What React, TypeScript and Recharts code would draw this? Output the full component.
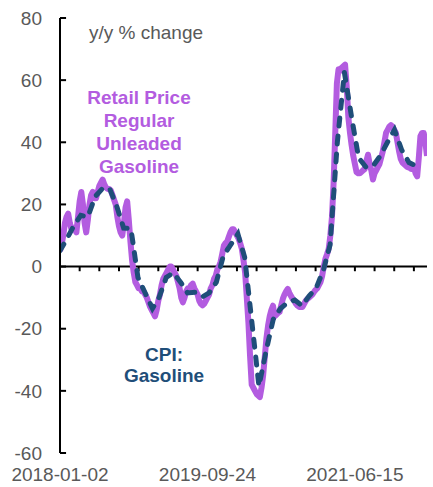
import React from 'react';
import { LineChart, Line, XAxis, YAxis, ReferenceLine } from 'recharts';

// weekly retail price y/y % change, starting 2018-01-02
const RETAIL_START = '2018-01-02';
const retailValues = [
  5, 7, 10, 14, 16, 17, 14, 12, 12.5, 12, 11, 16, 21, 24, 20, 14, 11, 15, 20, 23,
  24, 22, 22, 24, 26, 27, 28, 26.5, 25.5, 25, 25, 24.5, 23, 21.5, 20, 16, 13, 11, 10, 14,
  19, 21, 15, 8, 2, -2, -5, -6, -7, -7, -8, -8, -9, -10, -11.5, -13, -14, -15, -16, -14,
  -11, -9, -6, -4, -3, -2, -1, 0, 0, -1, -2, -3, -5, -7, -10, -11.5, -10, -8, -7, -7,
  -6, -5.5, -7, -8, -9, -11, -12, -12.5, -12, -11, -10, -9, -7, -6, -4, -3, -1, 0, 1.5, 4,
  6.7, 7.5, 8, 9.5, 11, 12, 12, 11, 10, 9, 7.5, 5.7, 2, -2, -10, -18, -28.7, -38, -39, -40,
  -41, -41.5, -42, -39, -35, -29, -23, -19, -16, -14, -12.6, -16, -15.5, -15, -14.6, -12.5, -10.4, -9, -8, -7.2,
  -8.5, -9.5, -10.4, -11, -12, -12.6, -13, -13, -13, -12, -11, -10.4, -10, -9.5, -9, -8.2, -7.5, -7, -6, -5,
  -3, 0, 2.5, 4, 5.7, 10, 16, 27, 43, 59, 63.5, 63, 64, 64.5, 65, 58, 48, 43, 39, 35.6,
  33, 30.4, 30, 30, 30.5, 31, 31.4, 34, 36, 33, 31, 28, 30, 31, 32, 33, 35, 37, 40, 43,
  44, 45, 45.5, 45, 44, 43, 40, 37, 34.6, 33.5, 33, 32.5, 32, 32, 31.5, 31.4, 32, 30, 29, 35,
  42, 43, 43, 40, 35.6,
];

// monthly CPI gasoline y/y % change, Jan 2018 onward
const CPI_START_YEAR = 2018;
const cpiValues = [
  5, 9, 13, 16.5, 16, 22.5, 25, 25.3, 19.5, 12.4, 12.2, -3.5,
  -8.5, -13.5, -10, -3.5, -2, -5, -8.5, -8.3, -9.8, -8.5, -5, 3.5,
  7, 10.5, 3, -18, -38.5, -27, -17, -13.5, -11.5, -10.8, -12.6, -9.5,
  -6.8, -1, 7, 40, 62.5, 48, 35, 32, 32.4, 35.6, 40, 44,
  37.5, 33.5, 32.5,
];

const yTicks = [-60, -40, -20, 0, 20, 40, 60, 80];
const labelWeeks = [0, 90, 180];
const minorTickWeeks = [12, 24, 36, 48, 60, 72, 84, 96, 108, 120, 132, 144, 156, 168, 180, 192, 204, 216];

const WEEK = 7 * 24 * 3600 * 1000;
const t0 = Date.parse(RETAIL_START + 'T00:00:00Z');

const retailData = retailValues.map((v, i) => ({ t: t0 + i * WEEK, v }));
const cpiData = cpiValues.map((v, i) => ({ t: Date.UTC(CPI_START_YEAR, i, 1), v }));
const tEnd = retailData[retailData.length - 1].t;

const PURPLE = '#B35CE0';
const NAVY = '#1F4E79';
const GREY = '#595959';
const FONT = '"Liberation Sans", Arial, sans-serif';

const fmtDate = (t: number) => new Date(t).toISOString().slice(0, 10);

const App: React.FC = () => {
  return (
    <div style={{ position: 'absolute', left: 0, top: 0, width: 433, height: 487, fontFamily: FONT }}>
      <LineChart width={433} height={487} margin={{ top: 18, right: 6, bottom: 0, left: 0 }}>
        <XAxis
          type="number"
          dataKey="t"
          domain={[t0, tEnd]}
          ticks={labelWeeks.map((w) => t0 + w * WEEK)}
          tickFormatter={fmtDate}
          axisLine={false}
          tickLine={false}
          height={34}
          tickMargin={9}
          tick={{ fill: GREY, fontSize: 19, fontFamily: FONT }}
          allowDataOverflow
        />
        <YAxis
          type="number"
          domain={[-60, 80]}
          ticks={yTicks}
          width={60}
          axisLine={{ stroke: '#000', strokeWidth: 2 }}
          tickLine={false}
          tickSize={-6}
          tickMargin={24}
          tick={{ fill: GREY, fontSize: 19, fontFamily: FONT }}
          allowDataOverflow
        />
        {/* y tick marks pointing into the plot */}
        {yTicks.map((v) => (
          <ReferenceLine
            key={'y' + v}
            segment={[{ x: t0, y: v }, { x: t0 + 3.7 * WEEK, y: v }]}
            stroke="#000"
            strokeWidth={2}
          />
        ))}
        <ReferenceLine y={0} stroke="#000" strokeWidth={2} />
        {minorTickWeeks.map((w) => (
          <ReferenceLine
            key={w}
            segment={[{ x: t0 + w * WEEK, y: 0 }, { x: t0 + w * WEEK, y: -1.5 }]}
            stroke="#000"
            strokeWidth={2}
          />
        ))}
        <Line
          data={retailData}
          dataKey="v"
          stroke={PURPLE}
          strokeWidth={6}
          dot={false}
          strokeLinejoin="round"
          isAnimationActive={false}
        />
        <Line
          data={cpiData}
          dataKey="v"
          stroke={NAVY}
          strokeWidth={5}
          strokeDasharray="8 10"
          strokeLinecap="round"
          dot={false}
          isAnimationActive={false}
        />
      </LineChart>

      <div style={{ position: 'absolute', left: 66, top: 21, width: 160, textAlign: 'center', fontSize: 19, color: GREY, lineHeight: '24px' }}>
        y/y % change
      </div>
      <div style={{ position: 'absolute', left: 59, top: 86, width: 160, textAlign: 'center', fontSize: 19, fontWeight: 'bold', color: PURPLE, lineHeight: '23px' }}>
        Retail Price<br />Regular<br />Unleaded<br />Gasoline
      </div>
      <div style={{ position: 'absolute', left: 84, top: 344, width: 160, textAlign: 'center', fontSize: 19, fontWeight: 'bold', color: NAVY, lineHeight: '21px' }}>
        CPI:<br />Gasoline
      </div>
    </div>
  );
};

export default App;
